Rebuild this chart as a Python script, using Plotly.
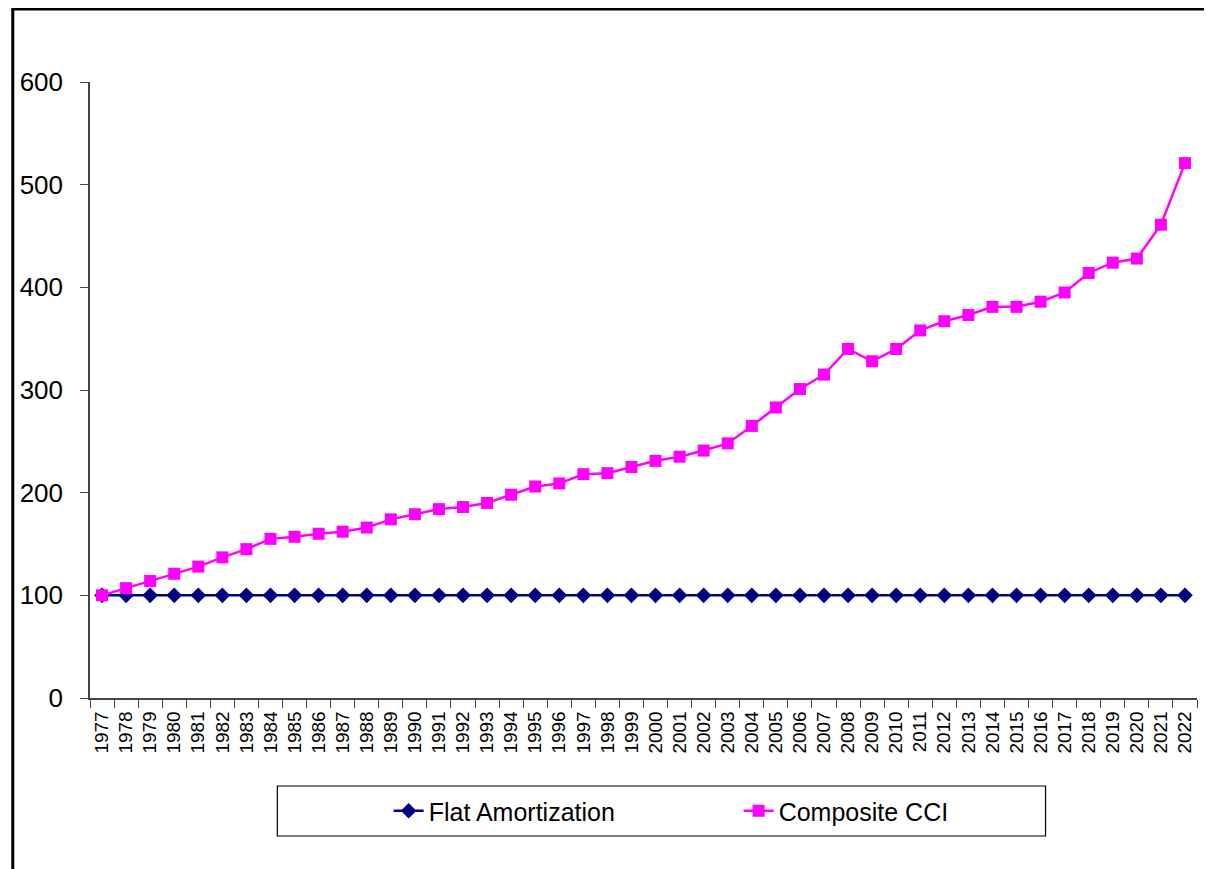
import plotly.graph_objects as go

years = [str(y) for y in range(1977, 2023)]
flat_amortization = [100] * 46
composite_cci = [100, 107, 114, 121, 128, 137, 145, 155, 157, 160,
                 162, 166, 174, 179, 184, 186, 190, 198, 206, 209,
                 218, 219, 225, 231, 235, 241, 248, 265, 283, 301,
                 315, 340, 328, 340, 358, 367, 373, 381, 381, 386,
                 395, 414, 424, 428, 461, 521]

# page body has an 8px margin; coordinates below are screen pixels
OFF = 8
W, H = 1212 - OFF, 869 - OFF
PL, PR, PT, PB = 86, 1197, 82, 698  # plot area on screen
L, T = PL - OFF, PT - OFF
R, B = W - (PR - OFF), H - (PB - OFF)
pw, ph = PR - PL, PB - PT

def px(x):
    return (x - PL) / pw

def py(y):
    return (PB - y) / ph

fig = go.Figure()
fig.add_trace(go.Scatter(
    x=years, y=flat_amortization, name="Flat Amortization", mode="lines+markers",
    line=dict(color="#000080", width=2.5),
    marker=dict(symbol="diamond", size=12, color="#000080")))
fig.add_trace(go.Scatter(
    x=years, y=composite_cci, name="Composite CCI", mode="lines+markers",
    line=dict(color="#FF00FF", width=2.5),
    marker=dict(symbol="square", size=12, color="#FF00FF")))

fig.update_layout(
    width=W, height=H,
    margin=dict(l=L, r=R, t=T, b=B),
    paper_bgcolor="white", plot_bgcolor="white",
    font=dict(family="Liberation Sans, Arial, sans-serif", color="black"),
    showlegend=True,
    legend=dict(orientation="h", x=px(737), y=py(811), xanchor="center", yanchor="middle",
                font=dict(size=25), bgcolor="rgba(0,0,0,0)", entrywidth=305),
    xaxis=dict(type="category", showgrid=False, showline=True, linecolor="#444",
               linewidth=1.5, ticks="outside", tickson="boundaries", ticklen=8,
               tickcolor="#444", tickangle=-90, tickfont=dict(size=19),
               ticklabelstandoff=4, range=[-0.5, 45.5]),
    yaxis=dict(range=[0, 600], dtick=100, showgrid=False, showline=True,
               linecolor="#444", linewidth=1.5, ticks="outside", ticklen=8,
               tickcolor="#444", tickfont=dict(size=26), ticklabelstandoff=12,
               zeroline=False),
    shapes=[
        dict(type="rect", xref="paper", yref="paper", x0=px(274), x1=px(1045),
             y0=py(836), y1=py(786), line=dict(color="black", width=1.2)),
        dict(type="line", xref="paper", yref="paper", x0=px(8.5), x1=px(8.5),
             y0=py(870), y1=py(9), line=dict(color="black", width=3)),
        dict(type="line", xref="paper", yref="paper", x0=px(7), x1=px(1211.5),
             y0=py(9), y1=py(9), line=dict(color="black", width=3)),
    ],
)

fig.write_html("out.html", config={"displayModeBar": False})
